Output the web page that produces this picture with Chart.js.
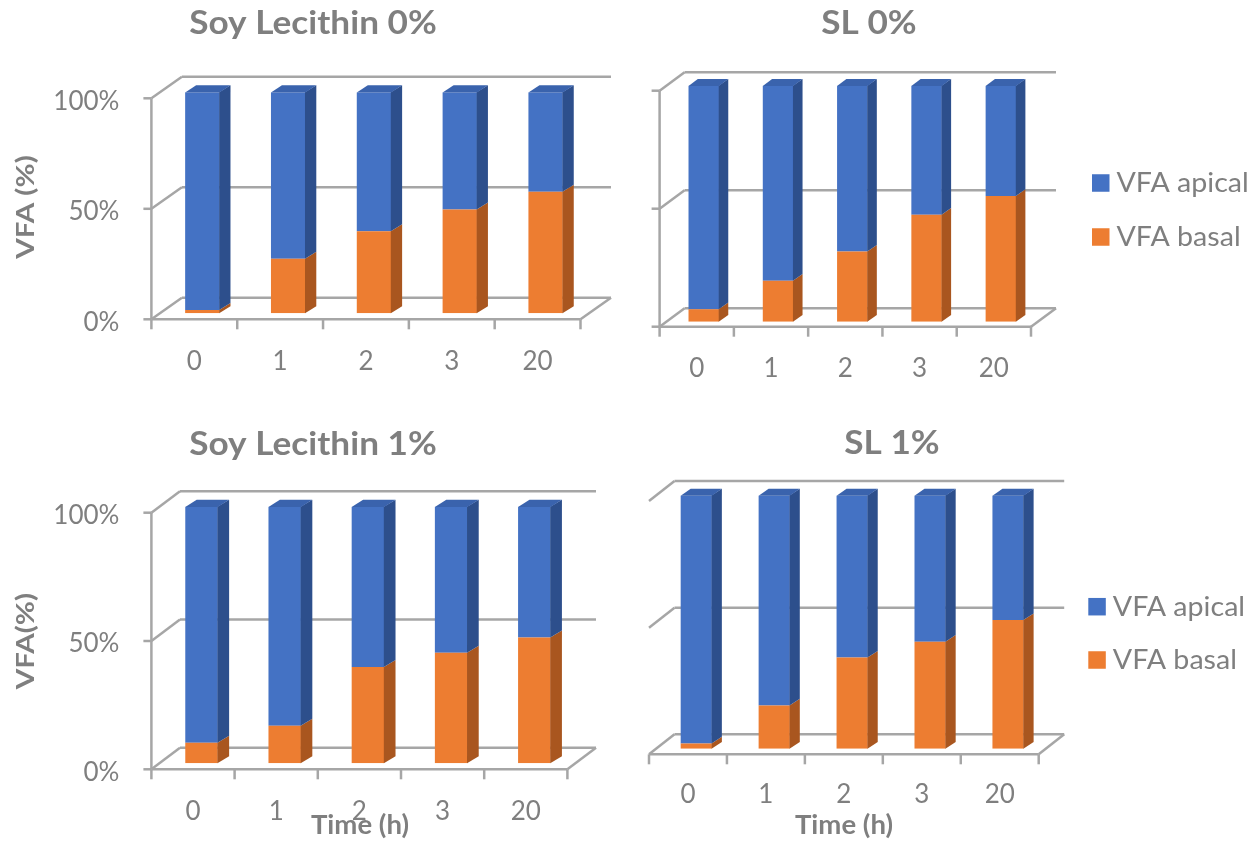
<!DOCTYPE html>
<html>
<head>
<meta charset="utf-8">
<title>VFA apical / basal distribution</title>
<script src="https://cdn.jsdelivr.net/npm/chart.js@4.4.1/dist/chart.umd.min.js"></script>
<style>
  html, body { margin: 0; padding: 0; background: #ffffff; }
  #wrap { position: relative; width: 1253px; height: 841px; overflow: hidden; }
  #wrap canvas { position: absolute; left: 0; top: 0; }
</style>
</head>
<body>
<div id="wrap">
  <canvas id="c1" width="1253" height="841"></canvas>
  <canvas id="c2" width="1253" height="841"></canvas>
  <canvas id="c3" width="1253" height="841"></canvas>
  <canvas id="c4" width="1253" height="841"></canvas>
</div>
<script>
// ---- data ----
const timeLabels = ['0', '1', '2', '3', '20'];
const yTickValues = [0, 50, 100];
const yTickLabels = ['0%', '50%', '100%'];

const soy0Basal  = [1.5, 24.7, 37.1, 47.0, 55.0];
const soy0Apical = [98.5, 75.3, 62.9, 53.0, 45.0];

const sl0Basal   = [5.3, 17.4, 29.7, 45.3, 53.3];
const sl0Apical  = [94.7, 82.6, 70.3, 54.7, 46.7];

const soy1Basal  = [8.0, 14.6, 37.5, 43.1, 49.0];
const soy1Apical = [92.0, 85.4, 62.5, 56.9, 51.0];

const sl1Basal   = [2.1, 17.1, 36.0, 42.3, 50.8];
const sl1Apical  = [97.9, 82.9, 64.0, 57.7, 49.2];

// ---- styling ----
const W = 1253, H = 841;
const GRID = '#a6a6a6';
const TEXT = '#7f7f7f';
const FONT = 'Lato, "Open Sans", sans-serif';
const BLUE = { front: '#4472c4', side: '#2d4f8c', top: '#3a63ad' };
const ORANGE = { front: '#ed7d31', side: '#a9561f', top: '#c9692a' };

// front plane of each box, bar plane offset, wall depth and bar depth
const panels = [
  {
    id: 'c1', title: 'Soy Lecithin 0%', basal: soy0Basal, apical: soy0Apical,
    front: { l: 151.4, r: 580.5, y0: 319.3, y100: 98.3 },
    bar: { ox: 8, oy: -6, dx: 11, dy: -7, frac: 0.40 },
    wall: { dx: 30.5, dy: -21.5 },
    titlePos: [313, 33.5], yTitle: 'VFA (%)', yTitlePos: [26, 207],
    yTicks: true, axisLine: true, catDy: 42, legend: null, xTitle: null
  },
  {
    id: 'c2', title: 'SL 0%', basal: sl0Basal, apical: sl0Apical,
    front: { l: 659.6, r: 1031, y0: 326.7, y100: 90.7 },
    bar: { ox: 7, oy: -5, dx: 9.3, dy: -6.7, frac: 0.41 },
    wall: { dx: 25, dy: -18.5 },
    titlePos: [869, 34], yTitle: null,
    yTicks: false, axisLine: true, catDy: 41.5,
    legend: { x: 1092, ys: [237, 183], size: 17.5 }, xTitle: null
  },
  {
    id: 'c3', title: 'Soy Lecithin 1%', basal: soy1Basal, apical: soy1Apical,
    front: { l: 151.4, r: 567.4, y0: 769.3, y100: 512.7 },
    bar: { ox: 8.5, oy: -6, dx: 11.4, dy: -7, frac: 0.39 },
    wall: { dx: 28.6, dy: -21.5 },
    titlePos: [313, 454.5], yTitle: 'VFA(%)', yTitlePos: [26, 641],
    yTicks: true, axisLine: true, catDy: 42.4, legend: null,
    xTitle: { text: 'Time (h)', x: 360, y: 826 }
  },
  {
    id: 'c4', title: 'SL 1%', basal: sl1Basal, apical: sl1Apical,
    front: { l: 649, r: 1038.7, y0: 754.3, y100: 501 },
    bar: { ox: 8.3, oy: -5.5, dx: 10, dy: -6.7, frac: 0.40 },
    wall: { dx: 25.5, dy: -20 },
    titlePos: [892, 454], yTitle: null,
    yTicks: false, axisLine: false, catDy: 40.7,
    legend: { x: 1088.3, ys: [660, 606.7], size: 17.5 },
    xTitle: { text: 'Time (h)', x: 844, y: 826 }
  }
];

function poly(ctx, pts) {
  ctx.beginPath();
  ctx.moveTo(pts[0][0], pts[0][1]);
  for (let i = 1; i < pts.length; i++) ctx.lineTo(pts[i][0], pts[i][1]);
  ctx.closePath();
  ctx.fill();
}

function line(ctx, x1, y1, x2, y2) {
  ctx.beginPath();
  ctx.moveTo(x1, y1);
  ctx.lineTo(x2, y2);
  ctx.stroke();
}

// text drawn slightly widened along its own direction
function wideText(ctx, text, x, y, sx, align, angle) {
  ctx.save();
  ctx.translate(x, y);
  if (angle) ctx.rotate(angle);
  ctx.scale(sx, 1);
  ctx.textAlign = align;
  ctx.fillText(text, 0, 0);
  ctx.restore();
}

// draws the 3-D box (walls, floor, ticks), the bar depth faces and the text
function makeBox3d(p) {
  return {
    id: 'box3d',
    beforeDatasetsDraw(chart) {
      const ctx = chart.ctx;
      const xs = chart.scales.x, ys = chart.scales.y;
      const fL = xs.left - p.bar.ox, fR = xs.right - p.bar.ox;
      const fy = v => ys.getPixelForValue(v) - p.bar.oy;
      const wdx = p.wall.dx, wdy = p.wall.dy;
      ctx.save();
      ctx.strokeStyle = GRID;
      ctx.lineWidth = 2.5;
      ctx.lineCap = 'butt';
      yTickValues.forEach(v => {
        const y = fy(v);
        line(ctx, fL + wdx, y + wdy, fR + wdx, y + wdy);   // back wall gridline
        line(ctx, fL, y, fL + wdx, y + wdy);               // side wall
        if (p.axisLine) line(ctx, fL - 8, y, fL, y);       // axis tick
      });
      const y0 = fy(0);
      line(ctx, fL, y0, fR, y0);                           // floor front edge
      line(ctx, fR, y0, fR + wdx, y0 + wdy);               // floor right edge
      if (p.axisLine) line(ctx, fL, fy(100), fL, y0);
      const cat = (xs.right - xs.left) / chart.data.labels.length;
      for (let i = 0; i <= chart.data.labels.length; i++) {
        const x = xs.left - p.bar.ox + i * cat;
        line(ctx, x, y0, x, y0 + 10);
      }
      ctx.restore();
    },
    afterDatasetsDraw(chart) {
      const ctx = chart.ctx;
      const xs = chart.scales.x, ys = chart.scales.y;
      const dx = p.bar.dx, dy = p.bar.dy;
      const last = chart.data.datasets.length - 1;
      ctx.save();
      chart.data.datasets.forEach((ds, di) => {
        const meta = chart.getDatasetMeta(di);
        meta.data.forEach(bar => {
          const pr = bar.getProps(['x', 'y', 'base', 'width'], true);
          const l = pr.x - pr.width / 2, r = pr.x + pr.width / 2;
          const t = Math.min(pr.y, pr.base), b = Math.max(pr.y, pr.base);
          ctx.fillStyle = ds.sideColor;
          poly(ctx, [[r - 0.3, b], [r + dx, b + dy], [r + dx, t + dy], [r - 0.3, t]]);
          if (di === last) {
            ctx.fillStyle = ds.topColor;
            poly(ctx, [[l, t + 0.3], [l + dx, t + dy], [r + dx, t + dy], [r, t + 0.3]]);
          }
        });
      });

      // text
      const fL = xs.left - p.bar.ox;
      const fy = v => ys.getPixelForValue(v) - p.bar.oy;
      ctx.fillStyle = TEXT;
      ctx.textBaseline = 'alphabetic';
      ctx.font = 'bold 32px ' + FONT;
      wideText(ctx, p.title, p.titlePos[0], p.titlePos[1], 1.1, 'center');

      ctx.textBaseline = 'middle';
      ctx.font = '26px ' + FONT;
      ctx.textAlign = 'center';
      chart.data.labels.forEach((lab, i) => {
        const x = xs.getPixelForValue(i) - p.bar.ox;
        ctx.fillText(lab, x, fy(0) + p.catDy);
      });

      if (p.yTicks) {
        ctx.textAlign = 'right';
        yTickValues.forEach((v, i) => {
          ctx.fillText(yTickLabels[i], fL - 32, fy(v) + 3);
        });
      }

      if (p.yTitle) {
        ctx.font = 'bold 25px ' + FONT;
        wideText(ctx, p.yTitle, p.yTitlePos[0], p.yTitlePos[1], 1.18, 'center', -Math.PI / 2);
      }

      if (p.xTitle) {
        ctx.font = 'bold 26px ' + FONT;
        wideText(ctx, p.xTitle.text, p.xTitle.x, p.xTitle.y, 1.06, 'center');
      }

      if (p.legend) {
        const s = p.legend.size;
        ctx.font = '26px ' + FONT;
        chart.data.datasets.forEach((ds, di) => {
          const cy = p.legend.ys[di];
          ctx.fillStyle = ds.backgroundColor;
          ctx.fillRect(p.legend.x, cy - s / 2, s, s);
          ctx.fillStyle = TEXT;
          wideText(ctx, ds.label, p.legend.x + s + 7, cy + 1, 1.1, 'left');
        });
      }
      ctx.restore();
    }
  };
}

panels.forEach(p => {
  const pad = {
    left: p.front.l + p.bar.ox,
    right: W - (p.front.r + p.bar.ox),
    top: p.front.y100 + p.bar.oy,
    bottom: H - (p.front.y0 + p.bar.oy)
  };
  new Chart(document.getElementById(p.id), {
    type: 'bar',
    data: {
      labels: timeLabels,
      datasets: [
        {
          label: 'VFA basal', data: p.basal,
          backgroundColor: ORANGE.front, sideColor: ORANGE.side, topColor: ORANGE.top,
          barPercentage: p.bar.frac, categoryPercentage: 1, borderWidth: 0
        },
        {
          label: 'VFA apical', data: p.apical,
          backgroundColor: BLUE.front, sideColor: BLUE.side, topColor: BLUE.top,
          barPercentage: p.bar.frac, categoryPercentage: 1, borderWidth: 0
        }
      ]
    },
    options: {
      responsive: false,
      animation: false,
      devicePixelRatio: 1,
      layout: { padding: pad },
      scales: {
        x: { stacked: true, display: false, offset: true },
        y: { stacked: true, display: false, min: 0, max: 100 }
      },
      plugins: {
        legend: { display: false },
        title: { display: false },
        tooltip: { enabled: false }
      }
    },
    plugins: [makeBox3d(p)]
  });
});
</script>
</body>
</html>
